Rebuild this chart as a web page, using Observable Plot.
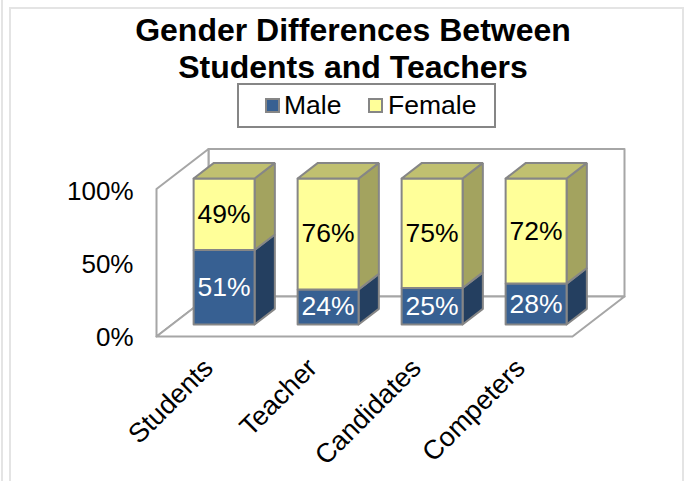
<!DOCTYPE html>
<html>
<head>
<meta charset="utf-8">
<script src="https://cdn.jsdelivr.net/npm/d3@7"></script>
<script src="https://cdn.jsdelivr.net/npm/@observablehq/plot@0.6"></script>
<style>
html,body{margin:0;padding:0;background:#fff;overflow:hidden}
#page{position:relative;width:688px;height:481px;font-family:"Liberation Sans",Arial,sans-serif;color:#000}
#frame{position:absolute;left:9px;top:7px;width:675px;height:490px;border:2px solid #e4e4e4;box-sizing:border-box}
#edge{position:absolute;left:1px;top:0;width:2px;height:481px;background:#e4e4e4}
#title{position:absolute;left:0;width:706px;top:12px;text-align:center;font-weight:bold;font-size:32px;line-height:37px}
#legend{position:absolute;left:237px;top:83px;width:259px;height:45px;box-sizing:border-box;border:2px solid #868686;background:#fff;font-size:26.5px}
#legend span{position:absolute;top:4px;line-height:32px;white-space:nowrap}
#legend i{position:absolute;top:13px;width:15px;height:15px;box-sizing:border-box;border:2px solid #868686}
svg{position:absolute;left:0;top:0}
</style>
</head>
<body>
<div id="page">
  <div id="edge"></div>
  <div id="frame"></div>
  <div id="chart"></div>
  <div id="title"></div>
  <div id="legend"></div>
</div>
<script>
const titleLines = ["Gender Differences Between", "Students and Teachers"];
const categories = ["Students", "Teacher", "Candidates", "Competers"];
const seriesNames = ["Male", "Female"];
const male = [51, 24, 25, 28];
const female = [49, 76, 75, 72];
const yTicks = [0, 50, 100];

const palette = {
  Male: {front: "#376092", side: "#243f60", top: "#2f5480", text: "#fff"},
  Female: {front: "#ffff99", side: "#a3a35f", top: "#c0c070", text: "#000"}
};
const wallTop = 101;

// Oblique projection: depth in [0,1] shifts a point in data units.
const depthX = 0.5, depthY = 27.4;
const zFront = 0.30, zBack = 0.69, halfBar = 0.293;
const pt = (x, y, z) => ({x: x + depthX * z, y: y + depthY * z});

const wallFaces = [];
const wall = (id, corners) => [...corners, corners[0]].forEach(([x, y, z]) => wallFaces.push({...pt(x, y, z), id}));
wall("back", [[0, 0, 1], [4, 0, 1], [4, wallTop, 1], [0, wallTop, 1]]);
wall("left", [[0, 0, 0], [0, wallTop, 0], [0, wallTop, 1], [0, 0, 1]]);
wall("floor", [[0, 0, 0], [4, 0, 0], [4, 0, 1], [0, 0, 1]]);

const barFaces = [];
const labels = [];
const face = (id, fill, corners) => [...corners, corners[0]].forEach(([x, y, z]) => barFaces.push({...pt(x, y, z), id, fill}));
categories.forEach((c, i) => {
  const l = i + 0.5 - halfBar, r = i + 0.5 + halfBar;
  let base = 0;
  [["Male", male[i]], ["Female", female[i]]].forEach(([s, v]) => {
    const t = base + v, col = palette[s];
    face(`${c}-${s}-side`, col.side, [[r, base, zFront], [r, base, zBack], [r, t, zBack], [r, t, zFront]]);
    face(`${c}-${s}-front`, col.front, [[l, base, zFront], [r, base, zFront], [r, t, zFront], [l, t, zFront]]);
    if (t === 100) face(`${c}-${s}-top`, col.top, [[l, t, zFront], [r, t, zFront], [r, t, zBack], [l, t, zBack]]);
    labels.push({...pt(i + 0.5, base + v / 2, zFront), text: `${v}%`, fill: col.text});
    base = t;
  });
});

const chart = Plot.plot({
  width: 688, height: 481,
  marginLeft: 156, marginRight: 116, marginTop: 190, marginBottom: 145,
  style: {fontFamily: "'Liberation Sans', Arial, sans-serif", background: "transparent", overflow: "visible"},
  x: {domain: [0, 4], axis: null},
  y: {domain: [0, 100], axis: null},
  marks: [
    Plot.line(wallFaces, {x: "x", y: "y", z: "id", fill: "#fff", stroke: "#a6a6a6", strokeWidth: 2, curve: "linear"}),
    Plot.line(barFaces, {x: "x", y: "y", z: "id", fill: "fill", stroke: "#868686", strokeWidth: 2, strokeLinejoin: "miter", curve: "linear"}),
    Plot.text(labels, {x: "x", y: "y", text: "text", fill: "fill", fontSize: 26.5, dy: 0}),
    Plot.axisY({ticks: yTicks, tickFormat: d => `${d}%`, tickSize: 0, tickPadding: 23, fontSize: 26, label: null, dy: 1, color: "#000"}),
    Plot.axisX({ticks: categories.map((_, i) => i + 0.5), tickFormat: d => categories[d - 0.5], tickSize: 0, tickPadding: 27, tickRotate: -45, fontSize: 27, label: null, dx: 0})
  ]
});
document.getElementById("chart").append(chart);

document.getElementById("title").innerHTML = titleLines.join("<br>");
const legend = document.getElementById("legend");
const swatchX = [26, 129], textX = [45, 149];
seriesNames.forEach((s, i) => {
  const sw = document.createElement("i");
  sw.style.left = swatchX[i] + "px";
  sw.style.background = palette[s].front;
  const t = document.createElement("span");
  t.style.left = textX[i] + "px";
  t.textContent = s;
  legend.append(sw, t);
});
</script>
</body>
</html>
